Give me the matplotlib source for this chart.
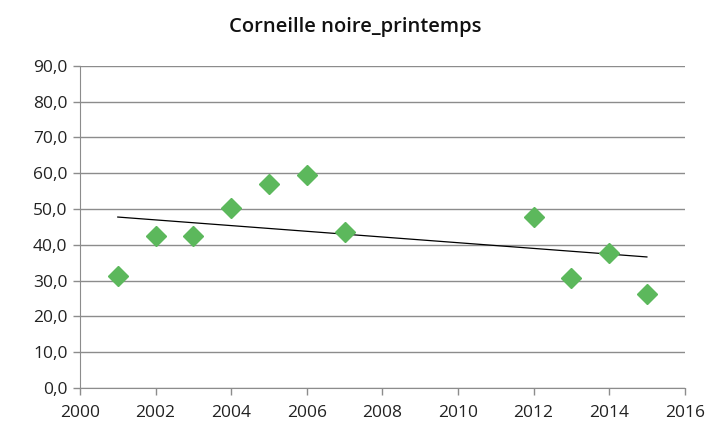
import matplotlib
matplotlib.use("Agg")
import matplotlib.pyplot as plt
import numpy as np
from matplotlib.ticker import FuncFormatter

years = [2001, 2002, 2003, 2004, 2005, 2006, 2007, 2012, 2013, 2014, 2015]
values = [31.2, 42.4, 42.5, 50.3, 57.0, 59.4, 43.6, 47.8, 30.7, 37.8, 26.2]
title = "Corneille noire_printemps"

plt.rcParams['font.family'] = ['Open Sans', 'DejaVu Sans']

fig = plt.figure(figsize=(7.11, 4.25), dpi=100)
ax = fig.add_axes([0.1125, 0.087, 0.8505, 0.758])

ax.set_xlim(2000, 2016)
ax.set_ylim(0, 90)
ax.set_xticks(np.arange(2000, 2017, 2))
ax.set_yticks(np.arange(0, 91, 10))
ax.yaxis.set_major_formatter(FuncFormatter(lambda v, p: f"{v:.1f}".replace('.', ',')))

ax.grid(axis='y', color='#8c8c8c', linewidth=1.0)
ax.set_axisbelow(True)
for s in ['top', 'right']:
    ax.spines[s].set_visible(False)
ax.spines['left'].set_color('#8c8c8c')
ax.spines['bottom'].set_color('#8c8c8c')
ax.tick_params(axis='both', colors='#8c8c8c', labelcolor='#222222', labelsize=12.5, length=5, width=1)
ax.tick_params(axis='x', pad=7)
ax.tick_params(axis='y', pad=4)

ax.plot(years, values, linestyle='none', marker='D', markersize=10.5, color='#5cb85c', markeredgecolor='#5cb85c', zorder=3)

coef = np.polyfit(years, values, 1)
xt = np.array([years[0], years[-1]])
ax.plot(xt, np.polyval(coef, xt), color='black', linewidth=0.9, zorder=2)

fig.text(0.5, 0.936, title, ha='center', va='center', fontsize=14.5, fontweight='semibold', color='#111111')

fig.savefig("out.png", dpi=100)
